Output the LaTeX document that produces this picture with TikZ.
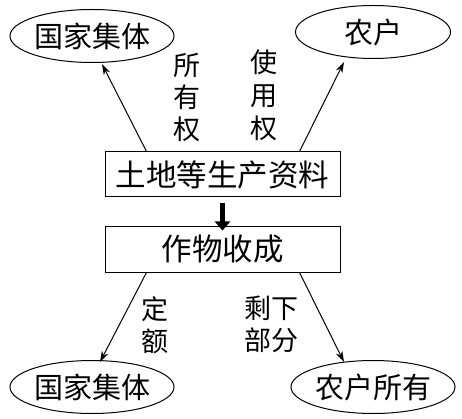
\documentclass[tikz,border=0pt]{standalone}
\usepackage{fontspec}
\setmainfont{Noto Sans CJK SC}
\usetikzlibrary{shapes.geometric,arrows.meta,calc}
\tikzset{
  oval/.style={draw,ellipse,line width=1pt,minimum width=155pt,minimum height=53pt,inner sep=0pt,font=\fontsize{29}{29}\selectfont},
  boxx/.style={draw,rectangle,line width=1pt,minimum width=235pt,minimum height=45pt,inner sep=0pt,font=\fontsize{30.5}{30.5}\selectfont},
  conn/.style={line width=1pt,-{Stealth[length=11pt,width=7pt]}},
  lab/.style={align=center,inner sep=0pt,font=\fontsize{27}{32}\selectfont},
  bigarrow/.style={line width=5.5pt,-{Triangle[length=9pt,width=15pt]}}
}
\begin{document}
\begin{tikzpicture}[x=1pt,y=1pt]
\useasboundingbox (0,0) rectangle (462,-419);
\node[oval] (g1) at (92,-36) {国家集体};
\node[oval] (n1) at (373,-32) {农户};
\node[boxx] (b1) at (222.5,-174.5) {土地等生产资料};
\node[boxx] (b2) at (222.5,-249.5) {作物收成};
\node[oval] (g2) at (92,-387) {国家集体};
\node[oval] (n2) at (373,-387) {农户所有};
\draw[conn] ($(b1.north west)+(42,0)$) -- ($(g1.south)+(10,-1)$);
\draw[conn] ($(b1.north east)+(-41,0)$) -- ($(n1.south)+(-29,-3)$);
\draw[conn] ($(b2.south west)+(42,0)$) -- ($(g2.north)+(8,-2)$);
\draw[conn] ($(b2.south east)+(-41,0)$) -- ($(n2.north)+(-29,-2)$);
\draw[bigarrow] ($(b1.south)+(0,-6)$) -- ($(b2.north)+(0,-4)$);
\node[lab] (l1) at (187,-97.5) {所\\有\\权};
\node[lab,font=\fontsize{27}{33}\selectfont] (l2) at (264,-95) {使\\用\\权};
\node[lab] (l3) at (155,-325.5) {定\\额};
\node[lab] (l4) at (271,-324) {剩下\\部分};
\end{tikzpicture}
\end{document}
